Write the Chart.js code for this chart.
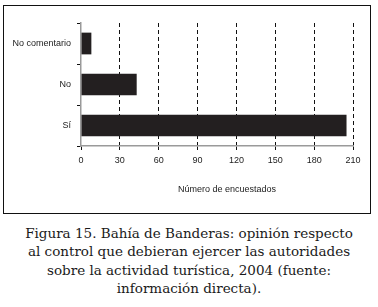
<!DOCTYPE html>
<html>
<head>
<meta charset="utf-8">
<script src="https://cdn.jsdelivr.net/npm/chart.js@4"></script>
<style>
  html, body { margin: 0; padding: 0; background: #fff; }
  body { width: 378px; height: 307px; position: relative; overflow: hidden; }
  #box {
    position: absolute; left: 3px; top: 5px; width: 366px; height: 207px;
    border: 1px solid #111;
  }
  #box canvas { position: absolute; left: 0; top: 0; }
  #caption {
    position: absolute; left: 0; top: 224px; width: 378px;
    text-align: center; font-family: "DejaVu Serif", serif; font-size: 13.5px;
    line-height: 18.3px; color: #1a1a1a;
  }
</style>
</head>
<body>
<div id="box"><canvas id="chart" width="366" height="207"></canvas></div>
<div id="caption">Figura 15. Bahía de Banderas: opinión respecto<br>al control que debieran ejercer las autoridades<br>sobre la actividad turística, 2004 (fuente:<br>información directa).</div>
<script>
// datos
const categories = ['No comentario', 'No', 'Sí'];
const respondents = [8, 43, 205];
const xTicks = [0, 30, 60, 90, 120, 150, 180, 210];
const xTitle = 'Número de encuestados';

const font = { family: '"Liberation Sans", Arial, sans-serif', size: 9 };

// título del eje x, algo desplazado a la derecha como en el original
const axisTitle = {
  id: 'axisTitle',
  afterDraw(chart) {
    const { ctx, chartArea } = chart;
    ctx.save();
    ctx.font = '9px ' + font.family;
    ctx.fillStyle = '#222';
    ctx.textAlign = 'center';
    ctx.textBaseline = 'middle';
    ctx.fillText(xTitle, (chartArea.left + chartArea.right) / 2 + 10, chartArea.bottom + 44);
    ctx.restore();
  }
};

new Chart(document.getElementById('chart'), {
  type: 'bar',
  data: {
    labels: categories,
    datasets: [{
      data: respondents,
      backgroundColor: '#231f20',
      borderWidth: 0,
      barPercentage: 0.53,
      categoryPercentage: 1
    }]
  },
  options: {
    indexAxis: 'y',
    responsive: false,
    animation: false,
    layout: { padding: { top: 17, right: 17, left: 0, bottom: 0 } },
    plugins: { legend: { display: false }, tooltip: { enabled: false } },
    scales: {
      x: {
        min: 0,
        max: 210,
        afterBuildTicks: s => { s.ticks = xTicks.map(v => ({ value: v })); },
        afterFit: s => { s.height = 67; },
        grid: {
          color: c => c.index === 0 ? 'rgba(0,0,0,0)' : '#111',
          tickColor: '#111',
          tickLength: 4,
          lineWidth: 1
        },
        border: { color: '#9a9a9a', width: 1.5, dash: [4, 3] },
        ticks: { color: '#222', font: font, padding: 5 }
      },
      y: {
        afterFit: s => { s.width = 77; },
        border: { color: '#9a9a9a', width: 1.5 },
        grid: {
          drawOnChartArea: false,
          tickColor: '#111',
          tickLength: 4,
          offset: true
        },
        ticks: { color: '#222', font: font, padding: 6 }
      }
    }
  },
  plugins: [axisTitle]
});
</script>
</body>
</html>
